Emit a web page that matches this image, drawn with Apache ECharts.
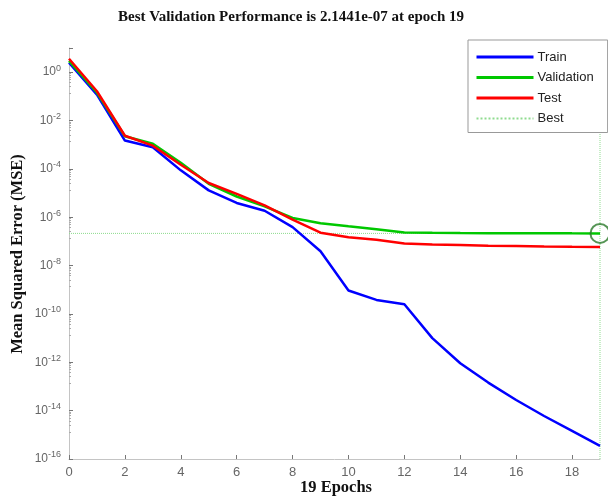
<!DOCTYPE html>
<html>
<head>
<meta charset="utf-8">
<script src="https://cdn.jsdelivr.net/npm/echarts@6/dist/echarts.min.js"></script>
<style>
html,body{margin:0;padding:0;background:#fff;}
#chart{width:608px;height:497px;}
</style>
</head>
<body>
<div id="chart"></div>
<script>
var titleText = 'Best Validation Performance is 2.1441e-07 at epoch 19';
var xLabel = '19 Epochs';
var yLabel = 'Mean Squared Error (MSE)';
var epochs = [0,1,2,3,4,5,6,7,8,9,10,11,12,13,14,15,16,17,18,19];
var train = [2.45, 0.117, 1.48e-3, 7.9e-4, 8.7e-5, 1.29e-5, 3.9e-6, 1.86e-6, 3.9e-7, 3.9e-8, 9.3e-10, 3.8e-10, 2.5e-10, 1.0e-11, 9.1e-13, 1.45e-13, 2.75e-14, 6.0e-15, 1.45e-15, 3.5e-16];
var validation = [2.95, 0.141, 2.24e-3, 1.1e-3, 1.78e-4, 2.4e-5, 7.2e-6, 2.8e-6, 9.3e-7, 5.6e-7, 4.2e-7, 3.2e-7, 2.35e-7, 2.26e-7, 2.21e-7, 2.19e-7, 2.17e-7, 2.16e-7, 2.15e-7, 2.1441e-7];
var test = [3.6, 0.162, 2.34e-3, 9.1e-4, 1.48e-4, 2.6e-5, 9.3e-6, 3.1e-6, 7.9e-7, 2.3e-7, 1.5e-7, 1.17e-7, 8.2e-8, 7.4e-8, 7.1e-8, 6.6e-8, 6.5e-8, 6.2e-8, 6.0e-8, 5.9e-8];
var bestEpoch = 19;
var bestValue = 2.1441e-7;
var yMin = 1e-16, yMax = 10;
var xMin = 0, xMax = 19;

function pairs(xs, ys){ return xs.map(function(x,i){ return [x, ys[i]]; }); }

var chart = echarts.init(document.getElementById('chart'), null, {renderer:'canvas'});
var labelColor = '#666';
var bestColor = '#8fdc8f';
var option = {
  animation: false,
  backgroundColor: '#fff',
  grid: {left: 69, right: 8, top: 48, bottom: 38, containLabel: false},
  legend: {
    left: 468, top: 40, orient: 'vertical',
    data: [
      {name: 'Train', lineStyle: {width: 3}},
      {name: 'Validation', lineStyle: {width: 3}},
      {name: 'Test', lineStyle: {width: 3}},
      'Best'
    ],
    itemWidth: 57, itemHeight: 14, itemGap: 7.5,
    padding: [10.5, 14, 7.5, 7],
    borderColor: '#999', borderWidth: 1, backgroundColor: '#fff',
    itemStyle: {color: 'rgba(0,0,0,0)', borderColor: 'rgba(0,0,0,0)', borderWidth: 0},
    textStyle: {fontFamily: 'Liberation Sans', fontSize: 13, color: '#222', padding: [0,0,0,-1]},
    selectedMode: false
  },
  xAxis: {
    type: 'value', min: xMin, max: xMax, interval: 2,
    axisLine: {show: true, lineStyle: {color: '#c4c4c4', width: 1}},
    axisTick: {show: true, inside: true, length: 4, lineStyle: {color: '#777'}},
    axisLabel: {color: labelColor, fontFamily: 'Liberation Sans', fontSize: 13, margin: 7, showMaxLabel: false},
    splitLine: {show: false}
  },
  yAxis: {
    type: 'log', logBase: 10, min: yMin, max: yMax, interval: 2,
    axisLine: {show: true, lineStyle: {color: '#c4c4c4', width: 1}},
    axisTick: {show: true, inside: true, length: 4, lineStyle: {color: '#777'}},
    minorTick: {show: true, splitNumber: 8, length: 2, lineStyle: {color: '#aaa'}},
    axisLabel: {
      showMaxLabel: false, margin: 8,
      formatter: function(v){ var e = Math.round(Math.log10(v)); return '{b|10}{s|' + e + '}'; },
      rich: {
        b: {fontFamily: 'Liberation Sans', fontSize: 12, color: labelColor},
        s: {fontFamily: 'Liberation Sans', fontSize: 9, color: labelColor, padding: [0,0,8,0]}
      }
    },
    splitLine: {show: false}
  },
  series: [
    {name: 'Best', type: 'line', data: [[xMin, bestValue],[xMax, bestValue]], symbol: 'none', z: 1,
     lineStyle: {color: bestColor, width: 1, type: 'dotted'}, itemStyle: {color: bestColor}},
    {name: 'BestV', type: 'line', data: [[bestEpoch, yMin],[bestEpoch, yMax]], symbol: 'none', z: 1,
     lineStyle: {color: bestColor, width: 1, type: 'dotted'}},
    {name: 'Train', type: 'line', data: pairs(epochs, train), symbol: 'none', z: 2,
     lineStyle: {color: '#0000ff', width: 2.5}, itemStyle: {color: '#0000ff'}},
    {name: 'Validation', type: 'line', data: pairs(epochs, validation), symbol: 'none', z: 2,
     lineStyle: {color: '#00c800', width: 2.5}, itemStyle: {color: '#00c800'}},
    {name: 'Test', type: 'line', data: pairs(epochs, test), symbol: 'none', z: 2,
     lineStyle: {color: '#ff0000', width: 2.5}, itemStyle: {color: '#ff0000'}},
    {name: 'BestPt', type: 'scatter', data: [[bestEpoch, bestValue]], symbol: 'circle', symbolSize: 19, clip: false, z: 3,
     itemStyle: {color: 'rgba(0,0,0,0)', borderColor: '#2a7a2a', borderWidth: 2}}
  ],
  graphic: [
    {type: 'text', x: 291, y: 17, style: {text: titleText, font: 'bold 15px "Liberation Serif"', fill: '#111', align: 'center', verticalAlign: 'middle'}},
    {type: 'text', x: 336, y: 488, style: {text: xLabel, font: 'bold 16.5px "Liberation Serif"', fill: '#111', align: 'center', verticalAlign: 'middle'}},
    {type: 'text', x: 18, y: 254, rotation: Math.PI/2, style: {text: yLabel, font: 'bold 16.5px "Liberation Serif"', fill: '#111', align: 'center', verticalAlign: 'middle'}}
  ]
};
chart.setOption(option);
</script>
</body>
</html>
